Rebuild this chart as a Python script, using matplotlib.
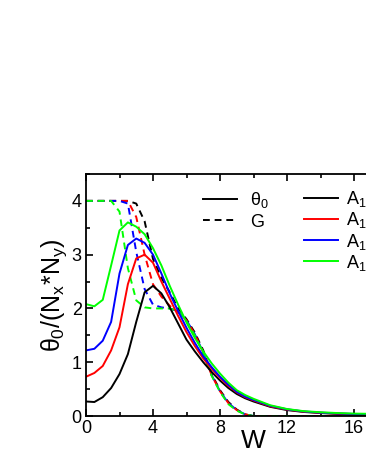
import numpy as np
import matplotlib
matplotlib.use("Agg")
import matplotlib.pyplot as plt
from matplotlib.ticker import MultipleLocator
from matplotlib.lines import Line2D

plt.rcParams['font.family'] = ['Liberation Sans', 'DejaVu Sans']
plt.rcParams['mathtext.fontset'] = 'custom'
plt.rcParams['mathtext.rm'] = 'Liberation Sans'
plt.rcParams['mathtext.it'] = 'Liberation Sans'

# =========================
# DATA
# =========================
W = [0, 0.5, 1, 1.5, 2, 2.5, 3, 3.5, 4, 4.5, 5, 5.5, 6, 6.5, 7, 7.5, 8, 8.5,
     9, 9.5, 10, 11, 12, 13, 14, 15, 16, 17, 18]

theta_black = [0.27, 0.26, 0.35, 0.52, 0.78, 1.15, 1.75, 2.30, 2.42, 2.28, 2.02,
               1.72, 1.42, 1.20, 1.00, 0.82, 0.66, 0.52, 0.41, 0.33, 0.27, 0.17,
               0.11, 0.075, 0.055, 0.04, 0.03, 0.025, 0.02]
theta_red = [0.73, 0.80, 0.93, 1.22, 1.65, 2.45, 2.93, 3.00, 2.85, 2.50, 2.18,
             1.86, 1.56, 1.30, 1.07, 0.88, 0.71, 0.56, 0.44, 0.35, 0.29, 0.18,
             0.12, 0.08, 0.06, 0.045, 0.035, 0.03, 0.025]
theta_blue = [1.22, 1.25, 1.40, 1.75, 2.65, 3.18, 3.30, 3.22, 3.00, 2.65, 2.28,
              1.95, 1.64, 1.36, 1.11, 0.91, 0.73, 0.58, 0.45, 0.36, 0.30, 0.19,
              0.125, 0.085, 0.063, 0.048, 0.038, 0.032, 0.027]
theta_green = [2.08, 2.04, 2.16, 2.80, 3.45, 3.60, 3.52, 3.38, 3.12, 2.80, 2.42,
               2.07, 1.74, 1.45, 1.20, 0.98, 0.79, 0.62, 0.48, 0.39, 0.32, 0.20,
               0.13, 0.09, 0.07, 0.055, 0.045, 0.04, 0.035]

G_black = [4, 4, 4, 4, 4, 4, 3.95, 3.62, 2.92, 2.57, 2.30, 2.00, 1.80, 1.55,
           1.22, 0.78, 0.48, 0.26, 0.12, 0.03, 0, 0, 0, 0, 0, 0, 0, 0, 0]
G_red = [4, 4, 4, 4, 4, 4, 3.70, 3.00, 2.45, 2.22, 2.05, 1.93, 1.78, 1.52,
         1.18, 0.76, 0.46, 0.24, 0.11, 0.03, 0, 0, 0, 0, 0, 0, 0, 0, 0]
G_blue = [4, 4, 4, 4, 4, 3.95, 3.05, 2.36, 2.07, 2.02, 2.00, 1.95, 1.78, 1.52,
          1.18, 0.76, 0.46, 0.24, 0.11, 0.03, 0, 0, 0, 0, 0, 0, 0, 0, 0]
G_green = [4, 4, 4, 4, 3.80, 2.75, 2.15, 2.02, 2.00, 2.00, 2.00, 1.95, 1.76,
           1.50, 1.16, 0.75, 0.45, 0.22, 0.10, 0.03, 0, 0, 0, 0, 0, 0, 0, 0, 0]

colors = ["black", "#ff0000", "#0000ff", "#00ff00"]
labels = ["A$_1$", "A$_1$", "A$_1$", "A$_1$"]
thetas = [theta_black, theta_red, theta_blue, theta_green]
Gs = [G_black, G_red, G_blue, G_green]

# =========================
# FIGURE
# =========================
fig = plt.figure(figsize=(3.66, 4.73), dpi=100)
# axes run past the right edge of the picture, as in the reference
ax = fig.add_axes([86 / 366, 57 / 473, 301.5 / 366, 242 / 473])

lw = 1.4
dash = (0, (3.5, 2.5))

for g, c in zip(Gs, colors):
    ax.plot(W, g, color=c, lw=lw, linestyle=dash)
for th, c in zip(thetas, colors):
    ax.plot(W, th, color=c, lw=lw)

ax.set_xlim(0, 18)
ax.set_ylim(0, 4.5)
ax.xaxis.set_major_locator(MultipleLocator(4))
ax.xaxis.set_minor_locator(MultipleLocator(2))
ax.yaxis.set_major_locator(MultipleLocator(1))
ax.yaxis.set_minor_locator(MultipleLocator(0.5))
ax.tick_params(which="both", direction="in", top=True, right=False,
               width=1.2, labelsize=13, pad=3)
ax.tick_params(which="major", length=5)
ax.tick_params(which="minor", length=3)
for s in ax.spines.values():
    s.set_linewidth(1.3)

ax.set_xlabel("W", fontsize=19, labelpad=-6)
# the original frame is wider than the picture; its centre sits near W = 10
ax.xaxis.label.set_x(10 / 18)
ax.set_ylabel(r"$\theta_0$/(N$_x$*N$_y$)", fontsize=18, labelpad=2)

# legends
style_handles = [Line2D([], [], color="black", lw=lw),
                 Line2D([], [], color="black", lw=lw, linestyle=dash)]
leg1 = fig.legend(style_handles, [r"$\theta_0$", "G"], loc="upper left",
                  bbox_to_anchor=(203 / 366, 1 - 190 / 473), frameon=False,
                  fontsize=13, handlelength=1.9, handletextpad=0.7,
                  labelspacing=0.2, borderaxespad=0, borderpad=0)

color_handles = [Line2D([], [], color=c, lw=lw) for c in colors]
leg2 = fig.legend(color_handles, labels, loc="upper left",
                  bbox_to_anchor=(304 / 366, 1 - 189 / 473), frameon=False,
                  fontsize=13, handlelength=1.9, handletextpad=0.4,
                  labelspacing=0.07, borderaxespad=0, borderpad=0)

fig.savefig("out.png", dpi=100)
